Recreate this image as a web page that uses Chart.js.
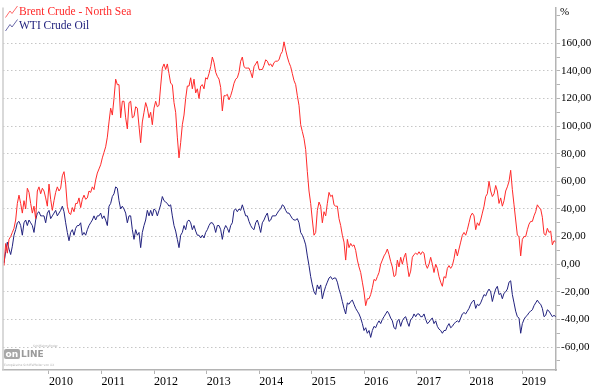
<!DOCTYPE html>
<html><head><meta charset="utf-8">
<script src="https://cdn.jsdelivr.net/npm/chart.js@4.4.1/dist/chart.umd.min.js"></script>
<style>html,body{margin:0;padding:0;background:#fff;}#wrap{width:600px;height:388px;}</style>
</head><body><div id="wrap"><canvas id="c" width="600" height="388"></canvas></div>
<script>
// ---- data (percent change) ----
const seriesNames = ['Brent Crude - North Sea', 'WTI Crude Oil'];
const yearTicks = [2010, 2011, 2012, 2013, 2014, 2015, 2016, 2017, 2018, 2019];
const valueTicks = [-60, -40, -20, 0, 20, 40, 60, 80, 100, 120, 140, 160];
// samples are evenly spaced (~11.6 days apart), starting Feb 2009
const firstSampleYear = 2009.144;
const sampleStepYears = 0.03171;

const brentPart1 = [-1,15,8,18,20,23,26,32,44,50, 44,37,46,40,55,52,44,37,42,33, 53,56,51,55,53,48,42,58,47,39, 46,52,56,53,55,64,67,58,42,37, 36,41,38,44,44,48,41,47,50,47, 48,53,52,56,54,61,66,69,72,77, 81,85,92,103,113,108,120,134,130,130, 106,118,118,106,98,117,118,106,107,114, 113,100,88,103,110];
const brentPart2 = [117,113,106,110,101,113,118,114,115,129, 142,145,141,145,138,131,130,117,110,92, 77,88,101,108,120,129,129,135,127,134, 124,127,120,129,130,127,135,134,138,143, 150,146,139,136,134,128,111,122,122,123, 119,122,126,131,134,135,139,147,150,143, 142,142,142,139,135,143,145,147,141,141, 141,144,148,147,144,145,143,146,147,147, 148,152,154,161,155,150,146,143,138,133];
const brentPart3 = [130,122,115,101,96,91,83,67,53,44, 32,21,23,39,45,42,30,38,35,44, 52,49,50,43,42,42,33,28,21,16, 3,18,12,15,13,14,10,3,-2,-6, -13,-20,-30,-25,-25,-22,-17,-11,-12,-9, -6,0,3,6,8,11,7,2,-2,-9, -8,3,-2,5,0,5,8,-1,-9,-5, 5,7,8,7,9,7,9,8,0,-3, 0,5,0,-6,0,-3,-9];
const brentPart4 = [-13,-16,-9,-10,-3,-1,-3,-1,4,11, 6,11,16,21,23,21,25,30,35,37, 35,25,30,28,32,37,42,49,51,60, 53,49,51,57,53,44,48,42,46,53, 56,60,68,54,43,32,21,20,6,18, 20,20,25,29,31,31,35,38,43,41, 40,34,22,21,26,23,24,14,17,16];

const wtiPart1 = [1,9,16,11,7,13,21,25,30,31, 28,21,30,32,28,32,30,28,23,32, 37,38,35,35,35,30,37,39,33,35, 37,39,35,37,39,42,38,30,23,17, 23,25,21,26,28,28,30,21,23,21, 25,28,30,32,35,32,35,35,37,33, 35,32,28,42,44,49,51,56,55,46, 40,42,40,37,30,35,35,25,18,25, 21,23,12,23,28];
const wtiPart2 = [32,39,35,39,35,40,39,35,39,43, 49,46,45,44,42,43,35,28,24,18, 12,21,23,28,25,31,32,30,25,28, 24,21,21,19,21,19,23,25,28,30, 30,28,23,28,28,25,18,25,28,26, 23,28,30,39,40,38,40,39,43,39, 35,35,31,28,26,25,30,32,28,23, 30,32,35,37,31,32,35,35,35,37, 39,40,43,42,39,37,37,35,33,32];
const wtiPart3 = [32,33,30,23,21,18,14,6,-1,-9, -15,-20,-22,-15,-18,-15,-25,-20,-16,-13, -10,-9,-11,-10,-10,-13,-18,-22,-27,-32, -36,-28,-29,-27,-26,-29,-32,-34,-36,-39, -43,-48,-46,-50,-48,-53,-48,-45,-46,-43, -41,-43,-40,-38,-36,-34,-36,-39,-41,-46, -47,-41,-40,-45,-41,-39,-38,-42,-45,-40, -39,-36,-38,-36,-36,-38,-38,-36,-40,-43, -42,-40,-39,-43,-41,-45,-47];
const wtiPart4 = [-48,-50,-48,-48,-45,-43,-46,-45,-43,-42, -41,-42,-39,-36,-35,-36,-34,-32,-29,-27, -26,-32,-29,-30,-28,-25,-22,-23,-20,-18, -20,-27,-22,-18,-16,-22,-21,-25,-21,-20, -18,-13,-12,-22,-28,-34,-38,-39,-50,-43, -40,-38,-37,-35,-34,-33,-30,-28,-26,-28, -29,-32,-38,-37,-33,-34,-36,-38,-37,-38];

// ---- build ----
const brent = brentPart1.concat(brentPart2, brentPart3, brentPart4);
const wti = wtiPart1.concat(wtiPart2, wtiPart3, wtiPart4);
const sampleYears = brent.map((_, i) => firstSampleYear + i * sampleStepYears);
const toPoints = arr => arr.map((v, i) => ({ x: sampleYears[i], y: v }));

const colors = { brent: '#ff2a2a', wti: '#22227e', grid: '#c6c6c6', axis: '#b4b4b4' };
const SERIF = '"Liberation Serif", "DejaVu Serif", serif';
const isMajor = v => valueTicks.includes(v);

const overlay = {
  id: 'overlay',
  afterDraw(chart) {
    const ctx = chart.ctx, a = chart.chartArea;
    ctx.save();
    // left frame line
    ctx.strokeStyle = '#cccccc'; ctx.lineWidth = 1.5;
    ctx.beginPath(); ctx.moveTo(a.left, a.top); ctx.lineTo(a.left, a.bottom); ctx.stroke();
    // legend
    const items = [[seriesNames[0], colors.brent, 'rgba(255,90,90,0.9)'], [seriesNames[1], colors.wti, 'rgba(90,90,160,0.9)']];
    ctx.font = '11.5px ' + SERIF;
    ctx.textBaseline = 'middle'; ctx.textAlign = 'left';
    items.forEach((it, k) => {
      const oy = k * 13.5;
      ctx.strokeStyle = it[2]; ctx.lineWidth = 1;
      ctx.beginPath();
      ctx.moveTo(5.5, 17.5 + oy); ctx.lineTo(10, 11 + oy); ctx.lineTo(12, 13.5 + oy); ctx.lineTo(17.5, 6 + oy);
      ctx.stroke();
      ctx.fillStyle = it[1];
      ctx.fillText(it[0], 19, 12 + oy);
    });
    // unit label
    ctx.fillStyle = '#000'; ctx.font = '11px ' + SERIF;
    ctx.fillText('%', 560, 12);
    // logo
    ctx.fillStyle = '#a8a8a8';
    ctx.beginPath(); ctx.roundRect(4, 349, 16, 10, 2); ctx.fill();
    ctx.fillStyle = '#ffffff'; ctx.font = 'bold 9px "DejaVu Sans", sans-serif';
    ctx.fillText('on', 5.5, 354.5);
    ctx.fillStyle = '#9a9a9a'; ctx.font = 'bold 9px "DejaVu Sans", sans-serif';
    ctx.fillText('LINE', 21, 354.5);
    ctx.font = '3px "DejaVu Sans", sans-serif'; ctx.fillStyle = '#b0b0b0';
    ctx.fillText('Schiffahrtsfinder', 33, 346.5);
    ctx.fillText('Europäische SchiffsPfeiler von XX', 4, 365);
    ctx.restore();
  }
};

new Chart(document.getElementById('c'), {
  type: 'line',
  data: {
    datasets: [
      { label: seriesNames[0], data: toPoints(brent), borderColor: colors.brent, borderWidth: 1, pointRadius: 0, tension: 0 },
      { label: seriesNames[1], data: toPoints(wti), borderColor: colors.wti, borderWidth: 1, pointRadius: 0, tension: 0 }
    ]
  },
  options: {
    responsive: false, animation: false, devicePixelRatio: 1,
    layout: { padding: { left: 3, top: 0, right: 0, bottom: 0 } },
    plugins: { legend: { display: false }, tooltip: { enabled: false } },
    scales: {
      x: {
        type: 'linear', min: 2009.125, max: 2019.646,
        afterBuildTicks: s => { s.ticks = yearTicks.map(v => ({ value: v })); },
        afterFit: s => { s.height = 18; },
        ticks: { callback: v => String(v), align: 'start', maxRotation: 0, autoSkip: false, padding: 1,
                 color: '#000', font: { family: SERIF, size: 12 } },
        grid: { drawOnChartArea: false, drawTicks: true, tickLength: 4, tickColor: colors.axis },
        border: { display: true, color: colors.axis, width: 1.5 }
      },
      y: {
        position: 'right', min: -76.6, max: 185.8,
        afterBuildTicks: s => {
          const t = [];
          for (let v = -70; v <= 180; v += 10) t.push({ value: v });
          s.ticks = t;
        },
        afterFit: s => { s.width = 44; },
        ticks: { callback: v => isMajor(v) ? v.toFixed(2).replace('.', ',') : '', autoSkip: false, padding: 1,
                 color: '#000', font: { family: SERIF, size: 11 } },
        grid: {
          color: c => (c.tick && isMajor(c.tick.value)) ? colors.grid : 'rgba(0,0,0,0)',
          tickColor: colors.axis, tickLength: 4, lineWidth: 1
        },
        border: { display: true, color: colors.axis, width: 1.5, dash: [1.5, 2.5] }
      }
    }
  },
  plugins: [overlay]
});
</script></body></html>
